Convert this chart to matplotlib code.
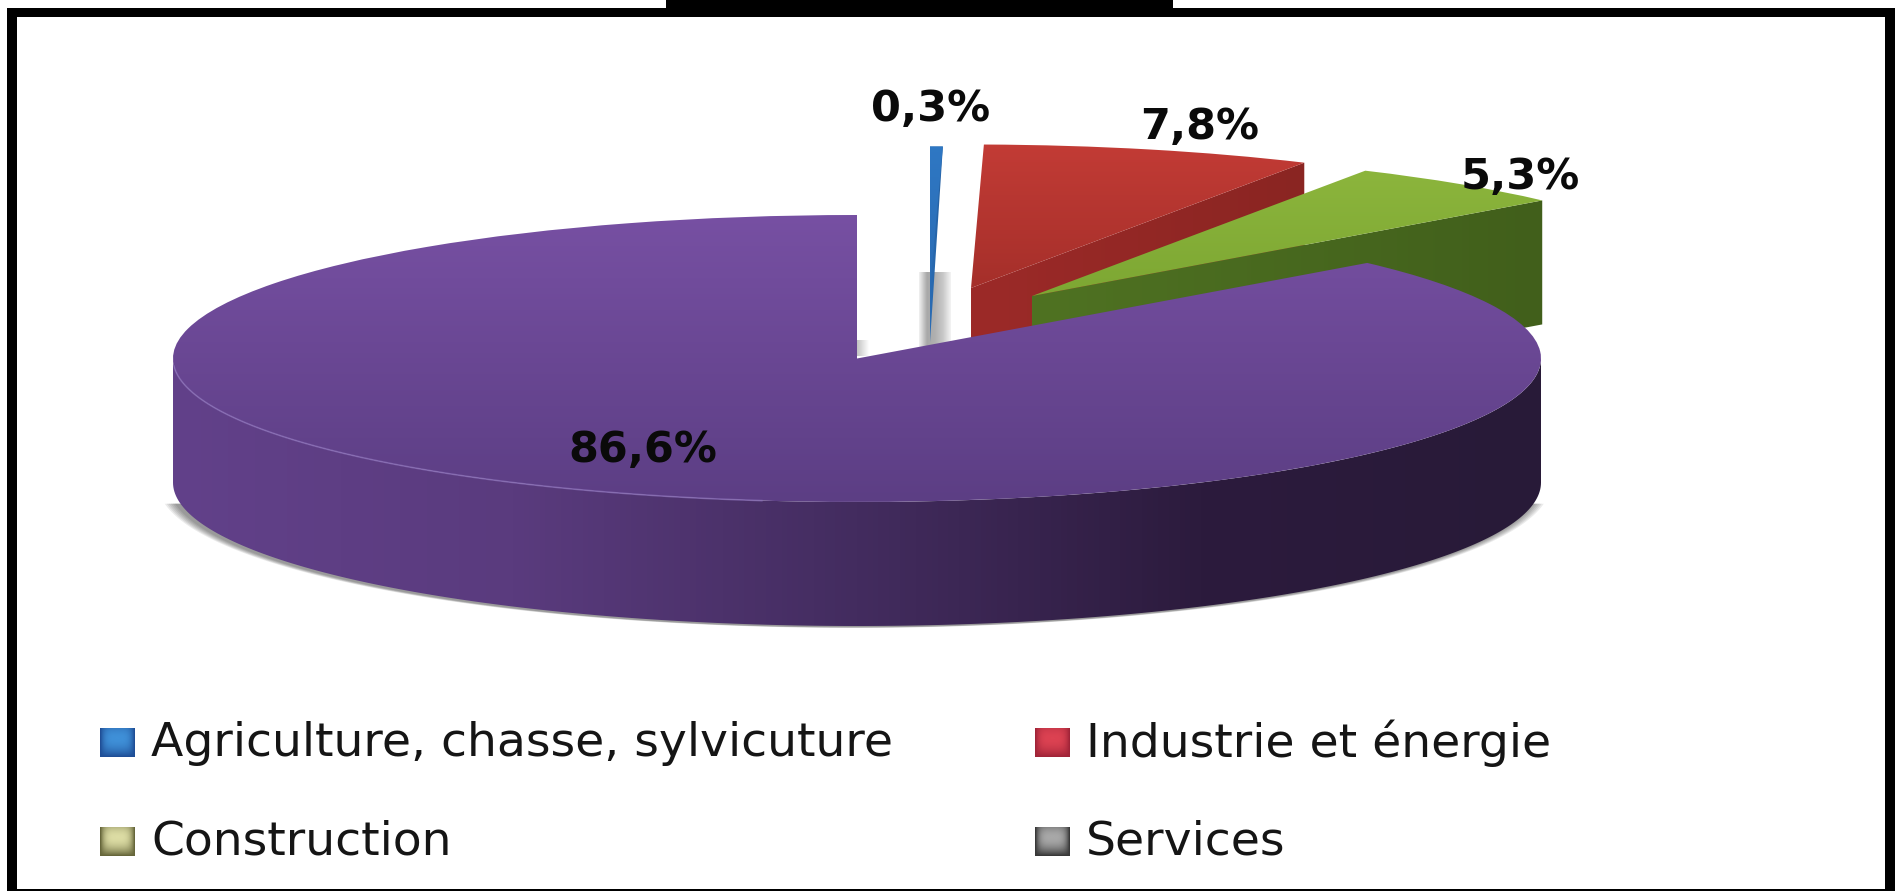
import numpy as np
import matplotlib
matplotlib.use('Agg')
from matplotlib import pyplot as plt
from matplotlib.colors import LinearSegmentedColormap

# data
categories = ['Agriculture, chasse, sylvicuture', 'Industrie et énergie', 'Construction', 'Services']
values = [0.3, 7.8, 5.3, 86.6]
value_labels = ['0,3%', '7,8%', '5,3%', '86,6%']

W, H = 1898, 891
CX, CY, RX, RY = 857, 358.5, 684, 143.5
DEPTH = 124 / RY


def ux(px):
    return (px - CX) / RX


def uy(py):
    return (CY - py) / RY


fig = plt.figure(figsize=(W / 100, H / 100), dpi=100)
ax = fig.add_axes([0, 0, 1, 1])

# la tarta real, en un circulo unidad aplastado por los ejes
wedges, _ = ax.pie(values, startangle=90, counterclock=False, colors=['none'] * 4, radius=1)
ax.set_aspect('auto')
ax.set_xlim(ux(0), ux(W))
ax.set_ylim(uy(H), uy(0))
ax.axis('off')

# separacion de las porciones, en pixeles de la imagen
centers = [(930, 290), (971, 288), (1032, 296), (CX, CY)]
depths = [52 / RY, DEPTH, DEPTH, DEPTH]
top_colors = [('#2f78c4', '#2a6cb4'), ('#c43c36', '#a52f2a'), ('#8fb83e', '#7da733'), ('#7750a3', '#5c3e84')]
wall_colors = [('#2a6cb4', '#245f9f'), ('#9c2a28', '#8a2522'), ('#4f7222', '#415f1b'), ('#62418a', '#291a3a')]


def gradient(cols, extent, horizontal, zorder, clip=None):
    cmap = LinearSegmentedColormap.from_list('g', list(cols))
    g = np.linspace(0, 1, 256)
    g = g.reshape(1, -1) if horizontal else g.reshape(-1, 1)
    im = ax.imshow(g, cmap=cmap, extent=extent, aspect='auto', zorder=zorder,
                   origin='upper', interpolation='bilinear')
    if clip is not None:
        im.set_clip_path(clip)
    return im


def arc(a0, a1, n=200):
    t = np.radians(np.linspace(a0, a1, n))
    return np.cos(t), np.sin(t)


# sombra bajo la tarta
for i in range(6):
    x, y = arc(188, 352)
    d = 0.003 * (6 - i)
    ax.fill(x * (1 + d) - 0.004, y * (1 + d * 0.3) - DEPTH - 0.008, color='#000000', alpha=0.08, lw=0, zorder=1)

# manchas grises detras de la barra azul y junto al vertice
gradient(('#f2f2f2', '#a8a8a8', '#b0b0b0', '#c8c8c8', '#f4f4f4'), (ux(919), ux(951), uy(350), uy(272)), True, 2)
gradient(('#b8b8b8', '#ffffff'), (ux(855), ux(869), uy(356), uy(340)), True, 2)

# porciones separadas: pared y cara superior
angles = 90 - np.cumsum([0] + values) * 3.6
for i in [0, 1, 2]:
    cx, cy = ux(centers[i][0]), uy(centers[i][1])
    zo = 3 + 2 * i
    a0, a1 = np.radians(angles[i]), np.radians(angles[i + 1])
    rx, ry = cx + np.cos(a1), cy + np.sin(a1)
    d = depths[i]
    if i == 0:
        # la porcion azul es tan estrecha que baja como una sola aguja
        lx, ly = cx + np.cos(a0), cy + np.sin(a0)
        xs, ys = [lx, rx, cx], [ly, ry, cy - d]
    else:
        xs, ys = [cx, rx, rx, cx], [cy, ry, ry - d, cy - d]
    wall = ax.fill(xs, ys, color='none', lw=0, zorder=zo)[0]
    gradient(wall_colors[i], (cx, rx, cy - d, cy + 1), True, zo, wall)
    w = wedges[i]
    w.set_center((cx, cy))
    w.set_zorder(zo + 1)
    gradient(top_colors[i], (cx - 0.1, cx + 1.1, cy, cy + 1.05), False, zo + 1, w)

# pared de la porcion grande
x, y = arc(180, 360)
wall = ax.fill(np.r_[x, x[::-1]], np.r_[y, y[::-1] - DEPTH], color='none', lw=0, zorder=10)[0]
gradient(('#62418a', '#5a3b7e', '#432c5f', '#2c1b3d', '#281a38'), (-1.01, 1.01, -1 - DEPTH, 0), True, 10, wall)

# cara superior de la porcion grande
wedges[3].set_zorder(11)
gradient(top_colors[3], (-1.01, 1.01, -1.01, 1.01), False, 11, wedges[3])
x, y = arc(183, 262)
ax.plot(x, y, color='#8a6fb8', lw=1.2, alpha=0.7, zorder=12)

# etiquetas de valores
label_pos = [(931, 109), (1200, 127), (1520, 177), (643, 450)]
for (px, py), lab in zip(label_pos, value_labels):
    ax.text(ux(px), uy(py), lab, fontsize=31, fontweight='bold', family='DejaVu Sans',
            ha='center', va='center', color='#0a0a0a', zorder=20)

# leyenda
swatch_pos = [(100, 728), (1035, 728), (100, 827), (1035, 827)]
swatch_cols = [('#1f4e96', '#3f90d8'), ('#a02438', '#dc4252'), ('#66663a', '#dcdca4'), ('#383838', '#a8a8a8')]
for (px, py), (c0, c1), name in zip(swatch_pos, swatch_cols, categories):
    cmap = LinearSegmentedColormap.from_list('s', [c0, c1])
    yy, xx = np.mgrid[1:-1:30j, -1:1:30j]
    g = (1 - np.abs(xx) ** 4) * (1 - ((yy - 0.3) / 1.3) ** 2)
    ax.imshow(g, cmap=cmap, extent=(ux(px), ux(px + 35), uy(py + 29), uy(py)), aspect='auto',
              zorder=20, interpolation='bilinear')
    ax.text(ux(px + 51), uy(py + 15), name, fontsize=34, family='DejaVu Sans',
            ha='left', va='center', color='#151515', zorder=20)

ax.set_xlim(ux(0), ux(W))
ax.set_ylim(uy(H), uy(0))

# marco negro
frame = [(7, 8, 1888, 9), (7, 8, 10, H - 8), (1885, 8, 10, H - 8), (7, 889, 1888, 2), (666, 0, 507, 8)]
for x0, y0, w, h in frame:
    ax.fill([ux(x0), ux(x0 + w), ux(x0 + w), ux(x0)], [uy(y0), uy(y0), uy(y0 + h), uy(y0 + h)],
            color='black', lw=0, zorder=30)

fig.savefig('out.png', dpi=100)
